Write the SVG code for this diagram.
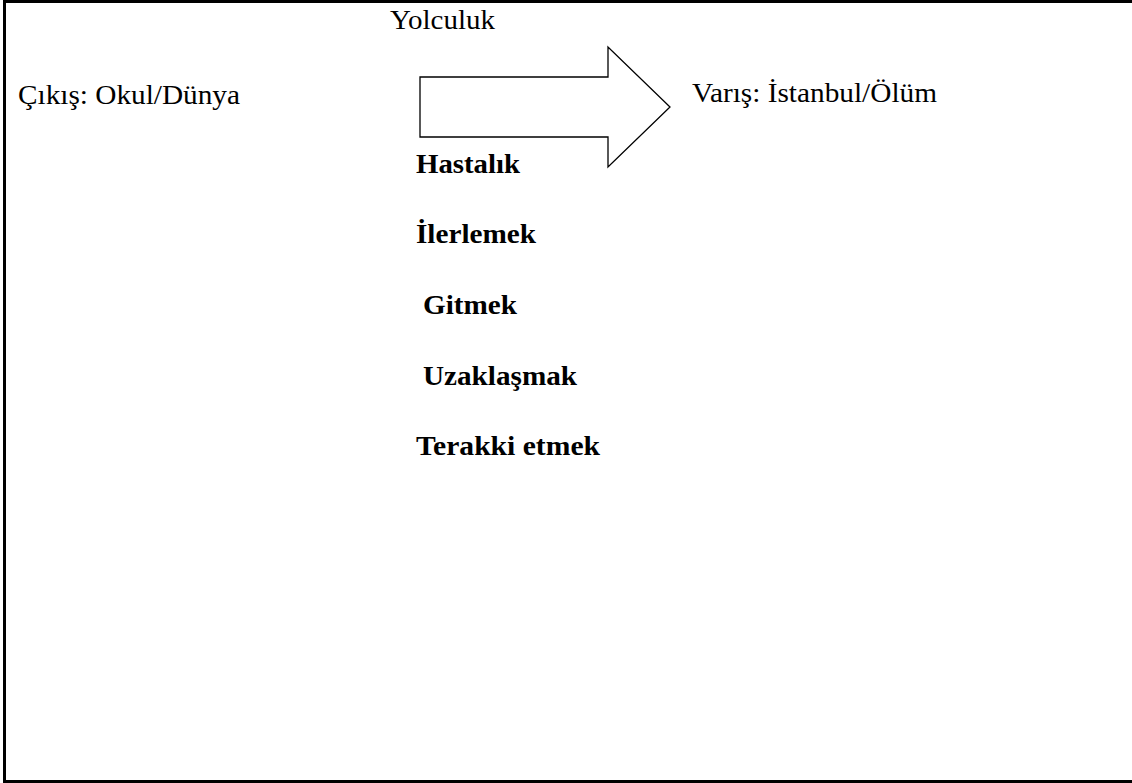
<svg xmlns="http://www.w3.org/2000/svg" width="1132" height="783" viewBox="0 0 1132 783">
<style>
.t{font-family:"Liberation Serif","Times New Roman",serif;font-size:28px;fill:#000}
.b{font-family:"Liberation Serif","Times New Roman",serif;font-size:28px;font-weight:bold;fill:#000}
</style>
<rect width="1132" height="783" fill="#fff"/>
<g id="frame" fill="none" stroke="#000" stroke-width="3">
<polyline points="1132,1.5 4.5,1.5 4.5,781.5 1132,781.5"/>
</g>
<g id="title"><text class="t" x="390" y="29" textLength="105" lengthAdjust="spacingAndGlyphs">Yolculuk</text></g>
<g id="start"><text class="t" x="18" y="104" textLength="222" lengthAdjust="spacingAndGlyphs">Çıkış: Okul/Dünya</text></g>
<g id="end"><text class="t" x="692" y="102" textLength="245" lengthAdjust="spacingAndGlyphs">Varış: İstanbul/Ölüm</text></g>
<g id="connectors">
<polygon points="420,77 608,77 608,47 670,107 608,167 608,137 420,137" fill="#fff" stroke="#000" stroke-width="1.3"/>
</g>
<g id="words">
<text class="b" x="416" y="173" textLength="104" lengthAdjust="spacingAndGlyphs">Hastalık</text>
<text class="b" x="416" y="243" textLength="120" lengthAdjust="spacingAndGlyphs">İlerlemek</text>
<text class="b" x="423" y="314" textLength="94" lengthAdjust="spacingAndGlyphs">Gitmek</text>
<text class="b" x="423" y="385" textLength="154" lengthAdjust="spacingAndGlyphs">Uzaklaşmak</text>
<text class="b" x="416" y="455" textLength="184" lengthAdjust="spacingAndGlyphs">Terakki etmek</text>
</g>
</svg>
